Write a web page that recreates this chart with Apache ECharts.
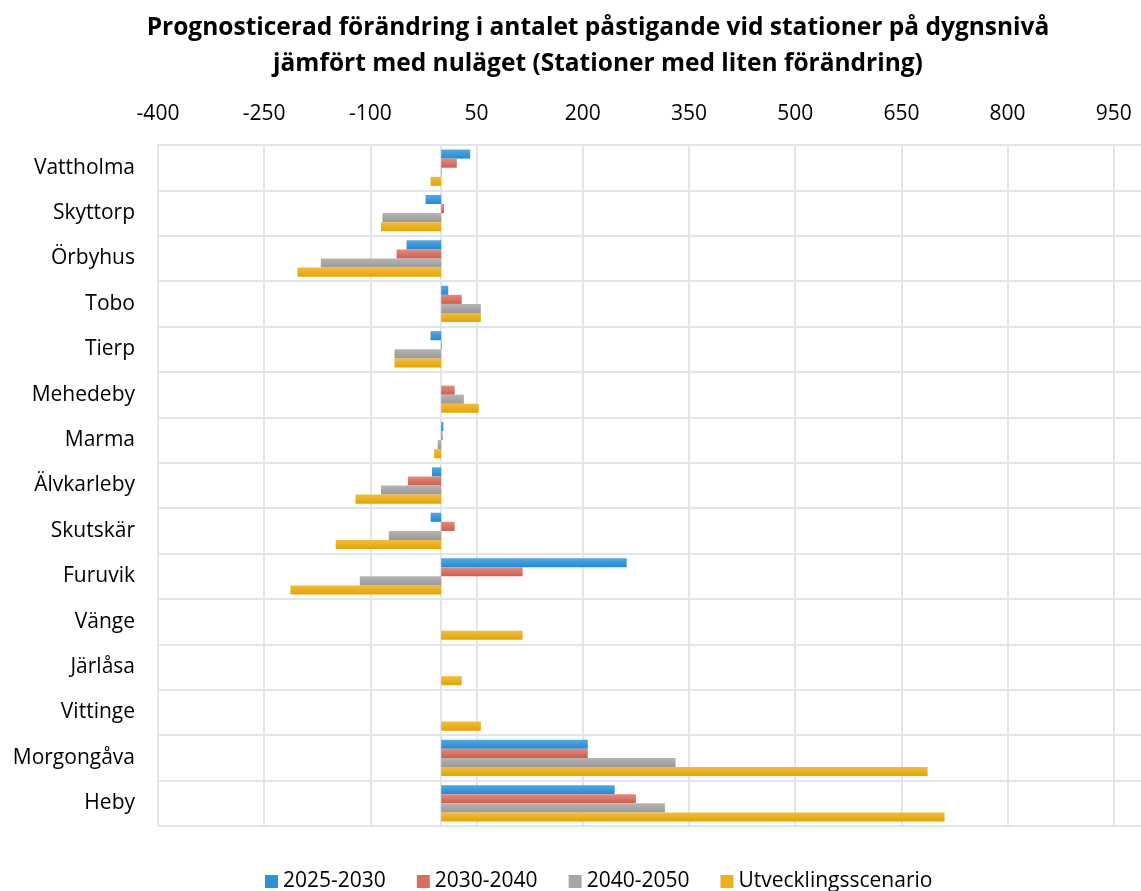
<!DOCTYPE html>
<html>
<head>
<meta charset="utf-8">
<script src="https://cdn.jsdelivr.net/npm/echarts@6/dist/echarts.min.js"></script>
<style>
  html, body { margin: 0; padding: 0; background: #ffffff; }
  #chart { width: 1141px; height: 891px; }
</style>
</head>
<body>
<div id="chart"></div>
<script>
// Stations, top to bottom
const categories = ['Vattholma', 'Skyttorp', 'Örbyhus', 'Tobo', 'Tierp', 'Mehedeby', 'Marma',
  'Älvkarleby', 'Skutskär', 'Furuvik', 'Vänge', 'Järlåsa', 'Vittinge', 'Morgongåva', 'Heby'];

// Change in daily boardings per period
const period2025_2030 = [41, -22, -49, 10, -15, 0, 3, -13, -15, 262, 0, 0, 0, 207, 245];
const period2030_2040 = [22, 4, -63, 29, 1, 19, 2, -47, 19, 115, 0, 0, 0, 207, 275];
const period2040_2050 = [1, -83, -170, 56, -66, 32, -5, -85, -74, -115, 0, 0, 0, 331, 316];
const utvecklingsscenario = [-15, -85, -203, 56, -66, 53, -10, -121, -149, -213, 115, 29, 56, 687, 711];

const seriesNames = ['2025-2030', '2030-2040', '2040-2050', 'Utvecklingsscenario'];
const axisMin = -400;
const axisMax = 1100;
const axisStep = 150;

const FONT = 'Open Sans';
const GRID_COLOR = '#e2e6ec';

function grad(top, bottom) {
  return new echarts.graphic.LinearGradient(0, 0, 0, 1, [
    { offset: 0, color: top },
    { offset: 1, color: bottom }
  ]);
}

const palette = [
  grad('#52a8e3', '#1f8cd5'),
  grad('#e6897a', '#cd5e4e'),
  grad('#b5b5b5', '#999999'),
  grad('#f4bb3c', '#e2a500')
];
const legendColors = ['#2b93d9', '#d9705f', '#a6a6a6', '#edb11c'];

const values = [period2025_2030, period2030_2040, period2040_2050, utvecklingsscenario];

const series = values.map((data, i) => {
  const s = {
    name: seriesNames[i],
    type: 'bar',
    data: data,
    barGap: '0%',
    barCategoryGap: '20%',
    itemStyle: { color: palette[i] },
    emphasis: { disabled: true }
  };
  if (i === 0) {
    // vertical line at zero
    s.markLine = {
      silent: true,
      symbol: 'none',
      label: { show: false },
      lineStyle: { color: GRID_COLOR, type: 'solid', width: 2 },
      data: [{ xAxis: 0 }],
      z: 1
    };
  }
  return s;
});

const chart = echarts.init(document.getElementById('chart'), null, { renderer: 'canvas' });
chart.setOption({
  animation: false,
  color: legendColors,
  textStyle: { fontFamily: FONT },
  graphic: [{
    type: 'text',
    x: 598,
    y: 10,
    style: {
      text: 'Prognosticerad förändring i antalet påstigande vid stationer på dygnsnivå\njämfört med nuläget (Stationer med liten förändring)',
      fontFamily: FONT,
      fontWeight: 'bold',
      fontSize: 24.5,
      lineHeight: 36,
      fill: '#000000',
      align: 'center'
    }
  }],
  legend: {
    data: seriesNames.map((n, i) => ({ name: n, itemStyle: { color: legendColors[i] } })),
    left: 260,
    top: 866,
    icon: 'rect',
    itemWidth: 13,
    itemHeight: 13,
    itemGap: 31,
    textStyle: { fontFamily: FONT, fontSize: 21, color: '#000000' }
  },
  grid: {
    left: 158,
    top: 145,
    height: 681,
    width: (axisMax - axisMin) * 0.708,
    outerBoundsMode: 'none',
    containLabel: false
  },
  xAxis: {
    type: 'value',
    position: 'top',
    min: axisMin,
    max: axisMax,
    interval: axisStep,
    axisLine: { show: true, lineStyle: { color: GRID_COLOR, width: 2 } },
    axisTick: { show: false },
    axisLabel: {
      margin: 20,
      fontFamily: FONT,
      fontSize: 21,
      color: '#000000',
      formatter: (v) => String(v)
    },
    splitLine: { show: true, lineStyle: { color: GRID_COLOR, width: 2 } }
  },
  yAxis: {
    type: 'category',
    data: categories,
    inverse: true,
    axisLine: { show: false },
    axisTick: { show: false },
    axisLabel: {
      margin: 23,
      fontFamily: FONT,
      fontSize: 21,
      color: '#000000'
    },
    splitLine: { show: true, lineStyle: { color: GRID_COLOR, width: 2 } }
  },
  series: series
});
</script>
</body>
</html>
